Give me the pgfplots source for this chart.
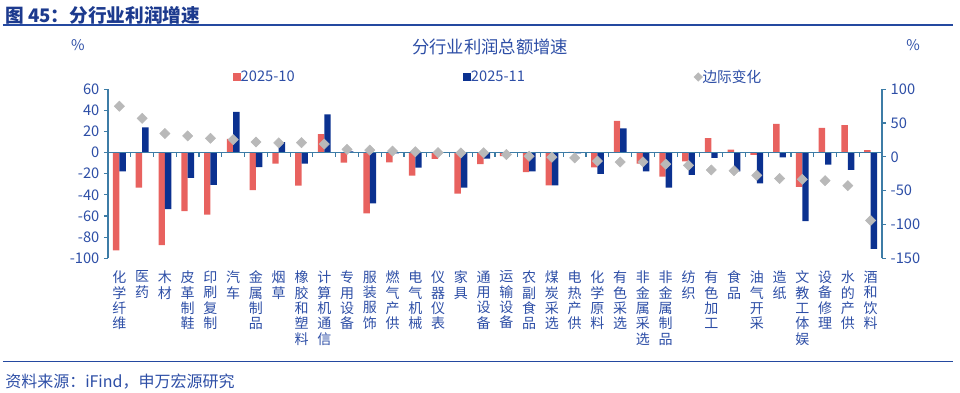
\documentclass[border=0pt]{standalone}
\usepackage{fontspec}
\setmainfont{Noto Sans CJK SC}
\usepackage{pgfplots}
\usepackage{pgfplotstable}
\pgfplotsset{compat=1.18}
\definecolor{redc}{HTML}{E8625F}
\definecolor{bluec}{HTML}{0B3190}
\definecolor{diac}{HTML}{B9B9B9}
\definecolor{axisc}{HTML}{3D7CA6}
\definecolor{txtc}{HTML}{2D4EA6}
\definecolor{titlec}{HTML}{1C3A8E}
\definecolor{rulec}{HTML}{2449A0}

\pgfplotstableread{
x red blue diff
0 -92.5 -17.8 75
1 -33 24 57
2 -87.5 -53.4 34.5
3 -55.3 -24 31
4 -58.7 -30.5 27.5
5 13 38.5 25.5
6 -35.5 -13.7 22
7 -10.5 10 20.7
8 -31.3 -10.5 21
9 17.5 36.3 19
10 -9.4 1.3 11
11 -57.5 -48 10
12 -9.1 -0.6 8.6
13 -21.8 -14.2 7.6
14 -5.9 0.2 6.3
15 -38.7 -33 5.8
16 -10.8 -5.6 6
17 -3.2 0.2 3.4
18 -18.4 -17.8 1
19 -31 -31 -0.5
20 0.8 -0.7 -1.5
21 -13.9 -20 -6.2
22 30 23 -7.6
23 -10.5 -17.8 -7.4
24 -22.8 -33 -10.8
25 -8.3 -21 -12.5
26 13.8 -5 -19.4
27 2.9 -17.8 -20.5
28 -2.2 -29.2 -27.4
29 27.2 -4.4 -32
30 -32.3 -64.8 -33.2
31 23.5 -11.4 -35.2
32 26 -16.2 -42.6
33 2.4 -91.2 -94
}\data

\begin{document}
\begin{tikzpicture}
\path[use as bounding box] (-81pt,-101pt) rectangle (639pt,193.7pt);
\node[anchor=west, font=\fontsize{14}{16}\selectfont\bfseries, text=titlec, inner sep=0pt] at (-77.25pt,182.5pt) {图 45：分行业利润增速};
\draw[rulec, line width=1.5pt] (-78.75pt,175pt) -- (633.75pt,175pt);
\draw[rulec, line width=1.2pt] (-78.75pt,-77.5pt) -- (633.75pt,-77.5pt);
\node[anchor=west, font=\fontsize{12}{14}\selectfont, text=txtc, inner sep=0pt] at (-77.25pt,-92.8pt) {资料来源：iFind，申万宏源研究};
\node[font=\fontsize{13}{15}\selectfont, text=txtc, inner sep=0pt] at (286.5pt,158.5pt) {分行业利润总额增速};
\node[font=\fontsize{11}{13}\selectfont, text=txtc, inner sep=0pt] at (-22.5pt,160pt) {\%};
\node[font=\fontsize{11}{13}\selectfont, text=txtc, inner sep=0pt] at (603.75pt,160pt) {\%};

\begin{axis}[
  at={(0pt,0pt)}, anchor=south west, scale only axis,
  width=580.5pt, height=126.75pt,
  xmin=-0.5, xmax=33.5, ymin=-100, ymax=60,
  ytick={-100,-80,...,60},
  ybar=0pt, bar width=4.8pt,
  axis y line*=left, axis x line*=bottom,
  x axis line style={draw=none},
  y axis line style={draw=axisc, line width=0.9pt},
  xtick={0,...,33}, xtick style={draw=none},
  ytick style={draw=axisc, line width=0.9pt},
  tick align=outside, major tick length=3pt,
  yticklabel style={text=txtc, font=\fontsize{11}{13}\selectfont},
  /pgf/number format/assume math mode=true,
  xticklabel style={text=txtc, font=\fontsize{10.5}{11.5}\selectfont, align=center, anchor=north, yshift=-3pt},
  xticklabels={{化\\学\\纤\\维},{医\\药},{木\\材},{皮\\革\\制\\鞋},{印\\刷\\复\\制},{汽\\车},{金\\属\\制\\品},{烟\\草},{橡\\胶\\和\\塑\\料},{计\\算\\机\\通\\信},{专\\用\\设\\备},{服\\装\\服\\饰},{燃\\气\\产\\供},{电\\气\\机\\械},{仪\\器\\仪\\表},{家\\具},{通\\用\\设\\备},{运\\输\\设\\备},{农\\副\\食\\品},{煤\\炭\\采\\选},{电\\热\\产\\供},{化\\学\\原\\料},{有\\色\\采\\选},{非\\金\\属\\采\\选},{非\\金\\属\\制\\品},{纺\\织},{有\\色\\加\\工},{食\\品},{油\\气\\开\\采},{造\\纸},{文\\教\\工\\体\\娱},{设\\备\\修\\理},{水\\的\\产\\供},{酒\\和\\饮\\料}},
  clip=false,
  legend columns=3,
  legend style={at={(0.5045,1.073)}, anchor=center, draw=none, fill=none,
    font=\fontsize{11}{13}\selectfont, text=txtc,
    /tikz/every even column/.append style={column sep=124.5pt}},
]
\addplot[fill=redc, draw=none, legend image code/.code={\path[draw=none, fill=none] (0pt,-3pt) rectangle (3.75pt,3pt); \fill[redc, draw=none, overlay] (0pt,-3pt) rectangle (6pt,3pt);}] table[x=x, y=red] {\data};
\addlegendentry{2025-10}
\addplot[fill=bluec, draw=none, legend image code/.code={\path[draw=none, fill=none] (0pt,-3pt) rectangle (3.75pt,3pt); \fill[bluec, draw=none, overlay] (0pt,-3pt) rectangle (6pt,3pt);}] table[x=x, y=blue] {\data};
\addlegendentry{2025-11}
\addlegendimage{draw=none, fill=none, legend image code/.code={\path[draw=none, fill=none] (0pt,-3.5pt) rectangle (4.75pt,3.5pt); \fill[diac, draw=none, overlay] (3.5pt,3.5pt) -- (7pt,0pt) -- (3.5pt,-3.5pt) -- (0pt,0pt) -- cycle;}}
\addlegendentry{边际变化}
\draw[axisc, line width=0.9pt] (axis cs:-0.5,0) -- (axis cs:33.5,0);
\pgfplotsinvokeforeach{0,...,32}{
  \draw[axisc, line width=0.9pt] (axis cs:#1+0.5,0) -- ++(0pt,-3pt);
}
\end{axis}

\begin{axis}[
  at={(0pt,0pt)}, anchor=south west, scale only axis,
  width=580.5pt, height=126.75pt,
  xmin=-0.5, xmax=33.5, ymin=-150, ymax=100,
  ytick={-150,-100,...,100},
  axis y line*=right, hide x axis,
  y axis line style={draw=axisc, line width=0.9pt},
  ytick style={draw=axisc, line width=0.9pt},
  tick align=outside, major tick length=3pt,
  yticklabel style={text=txtc, font=\fontsize{11}{13}\selectfont},
  /pgf/number format/assume math mode=true,
  clip=false,
]
\addplot[only marks, mark=square*, mark size=2.7pt, mark options={rotate=45, fill=diac, draw=diac}] table[x=x, y=diff] {\data};
\end{axis}
\end{tikzpicture}
\end{document}
